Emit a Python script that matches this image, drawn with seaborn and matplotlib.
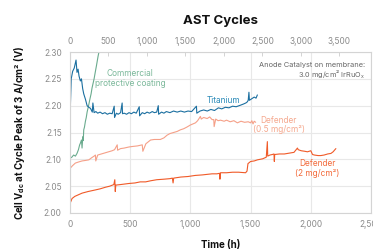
import matplotlib
matplotlib.use("Agg")
import matplotlib.pyplot as plt
from matplotlib.ticker import FuncFormatter
import seaborn as sns
import pandas as pd

# --- data (time in h, cell voltage in V) ---
ti_t = [0, 10, 22, 35, 50, 58, 67, 75, 86, 95, 105, 114, 128, 142, 156, 170, 185, 190,
        200, 215, 230, 250, 270, 290, 310, 330, 350, 367, 370, 385, 400, 420, 433, 436,
        450, 470, 490, 510, 530, 550, 575, 578, 600, 620, 640, 660, 683, 700, 720, 733,
        736, 760, 780, 800, 830, 860, 890, 920, 950, 980, 1010, 1050, 1053, 1080, 1110,
        1140, 1170, 1200, 1233, 1260, 1290, 1320, 1350, 1380, 1417, 1440, 1460, 1472,
        1480, 1486, 1490, 1510, 1530, 1545, 1556]
ti_v = [2.177, 2.250, 2.264, 2.270, 2.285, 2.262, 2.268, 2.255, 2.246, 2.250, 2.232,
        2.222, 2.212, 2.200, 2.197, 2.195, 2.188, 2.205, 2.187, 2.189, 2.186, 2.188,
        2.185, 2.187, 2.184, 2.186, 2.185, 2.199, 2.178, 2.186, 2.184, 2.187, 2.205,
        2.185, 2.186, 2.184, 2.187, 2.185, 2.188, 2.186, 2.198, 2.181, 2.187, 2.185,
        2.188, 2.186, 2.189, 2.187, 2.188, 2.200, 2.184, 2.188, 2.186, 2.189, 2.187,
        2.190, 2.188, 2.190, 2.188, 2.190, 2.189, 2.199, 2.186, 2.190, 2.192, 2.190,
        2.193, 2.191, 2.196, 2.194, 2.197, 2.196, 2.199, 2.198, 2.201, 2.203, 2.205,
        2.207, 2.210, 2.225, 2.210, 2.213, 2.216, 2.214, 2.220]

cpc_t = [0, 15, 30, 45, 58, 70, 80, 86, 95, 100, 106, 110, 114, 120, 128, 135, 142,
         150, 156, 165, 175, 183, 190, 200, 211, 220, 233, 245]
cpc_v = [2.102, 2.104, 2.108, 2.106, 2.111, 2.118, 2.127, 2.130, 2.136, 2.121, 2.142,
         2.135, 2.155, 2.160, 2.171, 2.178, 2.188, 2.196, 2.202, 2.212, 2.222, 2.233,
         2.240, 2.250, 2.264, 2.275, 2.292, 2.305]

d05_t = [0, 20, 44, 70, 100, 130, 156, 180, 200, 211, 214, 230, 260, 290, 320, 350,
         370, 392, 395, 420, 450, 489, 520, 560, 600, 605, 630, 669, 700, 750, 780, 806,
         830, 860, 890, 917, 944, 970, 1000, 1042, 1060, 1083, 1090, 1110, 1139, 1160,
         1180, 1194, 1197, 1210, 1230, 1250, 1280, 1300, 1330, 1361, 1390, 1420, 1450,
         1480, 1500, 1510, 1520, 1530, 1542]
d05_v = [2.083, 2.088, 2.093, 2.095, 2.097, 2.098, 2.099, 2.103, 2.106, 2.108, 2.097,
         2.108, 2.110, 2.112, 2.114, 2.116, 2.118, 2.127, 2.117, 2.120, 2.121, 2.123,
         2.124, 2.125, 2.127, 2.115, 2.129, 2.136, 2.137, 2.137, 2.140, 2.145, 2.148,
         2.150, 2.152, 2.155, 2.157, 2.160, 2.164, 2.168, 2.172, 2.180, 2.175, 2.178,
         2.176, 2.179, 2.174, 2.174, 2.161, 2.175, 2.172, 2.173, 2.171, 2.173, 2.170,
         2.172, 2.168, 2.171, 2.169, 2.170, 2.168, 2.172, 2.166, 2.171, 2.169]

d2_t = [0, 8, 17, 40, 70, 100, 150, 211, 250, 294, 330, 364, 372, 376, 380, 420, 489,
        540, 583, 628, 669, 720, 780, 830, 850, 856, 861, 920, 980, 1040, 1100, 1139,
        1180, 1220, 1242, 1245, 1250, 1300, 1350, 1400, 1458, 1470, 1478, 1500, 1530,
        1556, 1600, 1630, 1639, 1642, 1660, 1680, 1694, 1697, 1700, 1740, 1780, 1833,
        1860, 1889, 1895, 1920, 1950, 1972, 2000, 2014, 2030, 2060, 2083, 2110, 2140,
        2167, 2185, 2208]
d2_v = [2.018, 2.022, 2.027, 2.031, 2.034, 2.037, 2.040, 2.043, 2.045, 2.048, 2.050,
        2.053, 2.062, 2.040, 2.052, 2.053, 2.055, 2.056, 2.058, 2.058, 2.060, 2.062,
        2.063, 2.064, 2.065, 2.056, 2.065, 2.067, 2.068, 2.070, 2.071, 2.072, 2.073,
        2.073, 2.074, 2.063, 2.075, 2.075, 2.076, 2.076, 2.075, 2.078, 2.092, 2.096,
        2.097, 2.099, 2.101, 2.104, 2.133, 2.106, 2.108, 2.109, 2.110, 2.096, 2.109,
        2.110, 2.110, 2.112, 2.113, 2.121, 2.118, 2.116, 2.115, 2.114, 2.116, 2.109,
        2.108, 2.107, 2.107, 2.108, 2.110, 2.111, 2.114, 2.120]

x_ticks = [0, 500, 1000, 1500, 2000, 2500]
y_ticks = [2.00, 2.05, 2.10, 2.15, 2.20, 2.25, 2.30]
cycle_ticks = [0, 500, 1000, 1500, 2000, 2500, 3000, 3500]
cycles_per_hour = 1.565

sns.set_theme(style="whitegrid")
plt.rcParams['font.family'] = ['Inter', 'DejaVu Sans']

fig = plt.figure(figsize=(3.73, 2.5), dpi=100)
ax = fig.add_axes([0.1877, 0.148, 0.807, 0.644])

series = [
    (cpc_t, cpc_v, "#6aab8e"),
    (ti_t, ti_v, "#1b6fa0"),
    (d05_t, d05_v, "#f5a088"),
    (d2_t, d2_v, "#f05a28"),
]
for t, v, c in series:
    df = pd.DataFrame({"t": t, "v": v})
    sns.lineplot(data=df, x="t", y="v", ax=ax, color=c, linewidth=0.8,
                 estimator=None, sort=False)

ax.set_xlim(0, 2500)
ax.set_ylim(2.0, 2.3)
ax.set_xticks(x_ticks)
ax.set_yticks(y_ticks)
ax.xaxis.set_major_formatter(FuncFormatter(lambda x, p: f"{int(x):,}"))
ax.yaxis.set_major_formatter(FuncFormatter(lambda y, p: f"{y:.2f}"))
ax.grid(True, color="#e8e8e8", linewidth=0.8)
for s in ax.spines.values():
    s.set_color("#d4d4d4")
    s.set_linewidth(0.8)
ax.tick_params(axis="x", direction="in", length=3, width=0.6, color="#cccccc",
               labelsize=6, labelcolor="#8a8a8a", pad=5)
ax.tick_params(axis="y", length=0, labelsize=6, labelcolor="#8a8a8a", pad=6)

top = ax.secondary_xaxis("top", functions=(lambda h: h * cycles_per_hour,
                                           lambda c: c / cycles_per_hour))
top.set_xticks(cycle_ticks)
top.xaxis.set_major_formatter(FuncFormatter(lambda x, p: f"{int(x):,}"))
top.tick_params(direction="in", length=3, width=0.6, color="#cccccc",
                labelsize=6, labelcolor="#8a8a8a", pad=4)
top.spines["top"].set_visible(False)

ax.set_xlabel("Time (h)", fontsize=7, fontweight="bold", color="#111111")
ax.xaxis.set_label_coords(0.5, -0.17)
ax.set_ylabel("Cell V$_{\\mathregular{dc}}$ at Cycle Peak of 3 A/cm² (V)", fontsize=7,
              fontweight="bold", color="#111111")
ax.yaxis.set_label_coords(-0.142, 0.5)

fig.text(0.591, 0.917, "AST Cycles", ha="center", va="center", fontsize=9.5,
         fontweight="bold", color="#111111")

ax.text(500, 2.251, "Commercial\nprotective coating", color="#7bb89a", fontsize=6,
        ha="center", va="center", linespacing=1.1)
ax.text(1275, 2.210, "Titanium", color="#2a8ab8", fontsize=6, ha="center", va="center")
ax.text(1733, 2.164, "Defender\n(0.5 mg/cm²)", color="#f5a88e", fontsize=6,
        ha="center", va="center", linespacing=1.1)
ax.text(2054, 2.0825, "Defender\n(2 mg/cm²)", color="#f26a3a", fontsize=6,
        ha="center", va="center", linespacing=1.1)
ax.text(2450, 2.264, "Anode Catalyst on membrane:\n3.0 mg/cm² IrRuO$_\\mathregular{x}$",
        color="#666666", fontsize=5.3, ha="right", va="center", linespacing=1.1)

fig.savefig("out.png", dpi=100)
